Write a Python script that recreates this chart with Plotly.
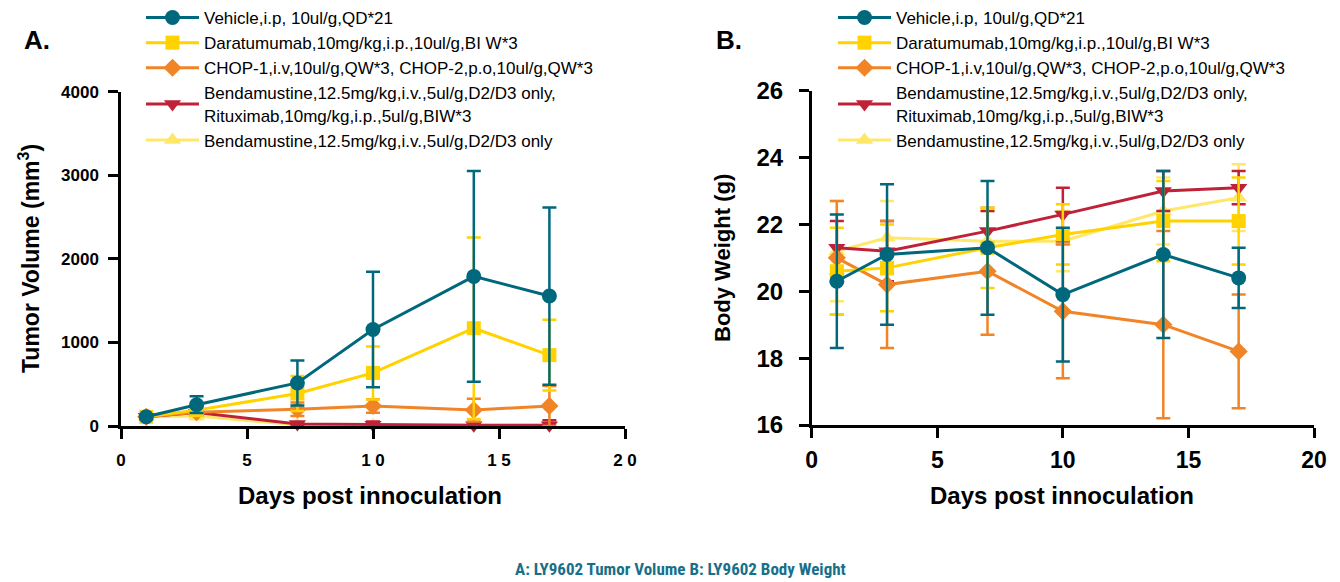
import plotly.graph_objects as go

# ---------------- data ----------------
days = [1, 3, 7, 10, 14, 17]

series_names = [
    "Vehicle,i.p, 10ul/g,QD*21",
    "Daratumumab,10mg/kg,i.p.,10ul/g,BI W*3",
    "CHOP-1,i.v,10ul/g,QW*3, CHOP-2,p.o,10ul/g,QW*3",
    "Bendamustine,12.5mg/kg,i.v.,5ul/g,D2/D3 only,<br>Rituximab,10mg/kg,i.p.,5ul/g,BIW*3",
    "Bendamustine,12.5mg/kg,i.v.,5ul/g,D2/D3 only",
]
colors = ["#00687C", "#FFD200", "#F08426", "#BF2238", "#FFE76A"]
symbols = ["circle", "square", "diamond", "triangle-down", "triangle-up"]
marker_sizes = [15, 14, 14, 15, 15]

# Tumor volume (mm3): mean and SD
tv_vehicle = [110, 255, 515, 1155, 1790, 1555]
tv_vehicle_sd = [25, 100, 270, 690, 1260, 1060]
tv_dara = [110, 190, 388, 635, 1170, 848]
tv_dara_sd = [20, 50, 209, 317, 1085, 422]
tv_chop = [110, 165, 200, 240, 190, 240]
tv_chop_sd = [15, 30, 80, 80, 135, 240]
tv_bendr = [110, 160, 25, 15, 10, 10]
tv_bendr_sd = [15, 30, 10, 40, 20, 60]
tv_bend = [110, 120, 15, 10, 10, 10]
tv_bend_sd = [15, 40, 10, 10, 10, 10]

# Body weight (g): mean and SD
bw_vehicle = [20.3, 21.1, 21.3, 19.9, 21.1, 20.4]
bw_vehicle_sd = [2.0, 2.1, 2.0, 2.0, 2.5, 0.9]
bw_dara = [20.6, 20.7, 21.3, 21.7, 22.1, 22.1]
bw_dara_sd = [1.3, 1.3, 1.2, 0.9, 1.2, 1.3]
bw_chop = [21.0, 20.2, 20.6, 19.4, 19.0, 18.2]
bw_chop_sd = [1.7, 1.9, 1.9, 2.0, 2.8, 1.7]
bw_bendr = [21.3, 21.2, 21.8, 22.3, 23.0, 23.1]
bw_bendr_sd = [0.8, 0.9, 0.6, 0.8, 0.6, 0.5]
bw_bend = [21.2, 21.6, 21.5, 21.5, 22.4, 22.8]
bw_bend_sd = [1.5, 1.1, 0.9, 0.9, 1.0, 1.0]

tv_means = [tv_vehicle, tv_dara, tv_chop, tv_bendr, tv_bend]
tv_sds = [tv_vehicle_sd, tv_dara_sd, tv_chop_sd, tv_bendr_sd, tv_bend_sd]
bw_means = [bw_vehicle, bw_dara, bw_chop, bw_bendr, bw_bend]
bw_sds = [bw_vehicle_sd, bw_dara_sd, bw_chop_sd, bw_bendr_sd, bw_bend_sd]

x_tickvals = [0, 5, 10, 15, 20]
x_ticktext_a = ["0", "5", "1 0", "1 5", "2 0"]
y_tickvals_a = [0, 1000, 2000, 3000, 4000]
y_tickvals_b = [16, 18, 20, 22, 24, 26]

FONT = "Liberation Sans, Arial, Helvetica, sans-serif"
W, H = 1340, 582

fig = go.Figure()

# draw in reverse so Vehicle ends on top
for i in reversed(range(len(series_names))):
    for panel in ("a", "b"):
        if panel == "a":
            y, sd, xa, ya, lg = tv_means[i], tv_sds[i], "x", "y", "legend"
        else:
            y, sd, xa, ya, lg = bw_means[i], bw_sds[i], "x2", "y2", "legend2"
        fig.add_trace(go.Scatter(
            x=days, y=y, name=series_names[i], mode="lines+markers",
            xaxis=xa, yaxis=ya, legend=lg, cliponaxis=False,
            line=dict(color=colors[i], width=3),
            marker=dict(symbol=symbols[i], size=marker_sizes[i], color=colors[i],
                        line=dict(width=0)),
            error_y=dict(type="data", array=sd, visible=True, color=colors[i],
                         thickness=2.5, width=7),
        ))

axis_common = dict(showline=True, linecolor="black", linewidth=2.5, ticks="outside",
                   ticklen=10, tickwidth=2.5, tickcolor="black", showgrid=False,
                   zeroline=False, mirror=False, automargin=False)

def px_x(p):
    return p / W

def px_y(p):
    return 1 - p / H

fig.update_layout(
    width=W, height=H, autosize=False,
    margin=dict(l=0, r=0, t=0, b=0, pad=0),
    paper_bgcolor="white", plot_bgcolor="white",
    font=dict(family=FONT, color="black"),
    xaxis=dict(domain=[px_x(121), px_x(625)], range=[0, 20], tickvals=x_tickvals,
               ticktext=x_ticktext_a, anchor="y",
               tickfont=dict(size=17, family=FONT, weight="bold"), ticklabelstandoff=7,
               **axis_common),
    yaxis=dict(domain=[px_y(426), px_y(91.7)], range=[0, 4000], tickvals=y_tickvals_a,
               anchor="x", tickfont=dict(size=17, family=FONT, weight="bold"),
               ticklabelstandoff=6, **axis_common),
    xaxis2=dict(domain=[px_x(811.7), px_x(1314)], range=[0, 20], tickvals=x_tickvals,
                anchor="y2", tickfont=dict(size=23, family=FONT, weight="bold"),
                ticklabelstandoff=3, **axis_common),
    yaxis2=dict(domain=[px_y(425), px_y(90.7)], range=[16, 26], tickvals=y_tickvals_b,
                anchor="x2", tickfont=dict(size=24, family=FONT, weight="bold"),
                ticklabelstandoff=11, **axis_common),
    legend=dict(x=px_x(141), y=1, xanchor="left", yanchor="top",
                traceorder="reversed", bgcolor="rgba(0,0,0,0)",
                font=dict(size=17, family=FONT), itemwidth=53, tracegroupgap=0),
    legend2=dict(x=px_x(833), y=1, xanchor="left", yanchor="top",
                 traceorder="reversed", bgcolor="rgba(0,0,0,0)",
                 font=dict(size=17, family=FONT), itemwidth=53, tracegroupgap=0),
    showlegend=True,
)

ann = [
    dict(text="<b>A.</b>", x=px_x(37), y=px_y(40), font=dict(size=26)),
    dict(text="<b>B.</b>", x=px_x(729), y=px_y(40), font=dict(size=26)),
    dict(text="<b>Days post innoculation</b>", x=px_x(370), y=px_y(495), font=dict(size=24)),
    dict(text="<b>Days post innoculation</b>", x=px_x(1062), y=px_y(495), font=dict(size=24)),
    dict(text="<b>Tumor Volume (mm<sup>3</sup>)</b>", x=px_x(29), y=px_y(259),
         font=dict(size=23), textangle=-90),
    dict(text="<b>Body Weight (g)</b>", x=px_x(722), y=px_y(258),
         font=dict(size=22), textangle=-90),
    dict(text="<b>A: LY9602 Tumor Volume B: LY9602 Body Weight</b>", x=px_x(680),
         y=px_y(569),
         font=dict(size=17, color="#17708A",
                   family="Liberation Sans Narrow, Roboto Condensed, Roboto, sans-serif")),
]
for a in ann:
    a.update(xref="paper", yref="paper", showarrow=False, xanchor="center", yanchor="middle")
    a["font"].setdefault("family", FONT)
    a["font"].setdefault("color", "black")
fig.update_layout(annotations=ann)

# remove the page's default body margin so the figure sits at the window origin
fig.write_html("out.html", config={"displayModeBar": False},
               post_script="document.body.style.margin='0px';")
